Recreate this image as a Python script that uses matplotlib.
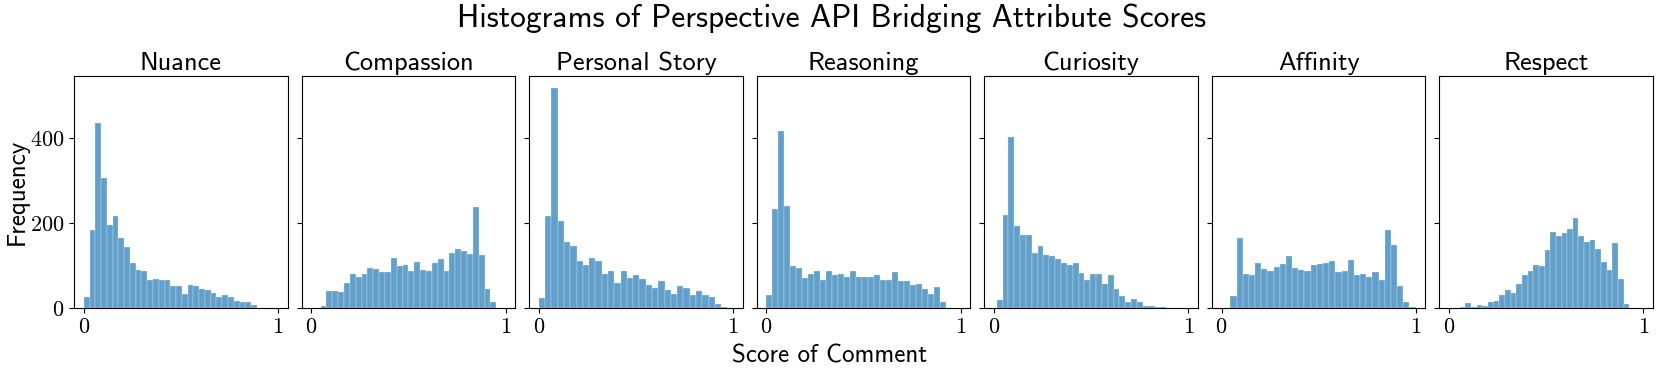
import numpy as np
import matplotlib
matplotlib.use("Agg")
import matplotlib.pyplot as plt

titles = ["Nuance", "Compassion", "Personal Story", "Reasoning", "Curiosity", "Affinity", "Respect"]

# score range (min, max) covered by each histogram (30 bins each)
ranges = [
    (0.000, 0.891),
    (0.048, 0.952),
    (0.000, 0.971),
    (0.000, 0.926),
    (0.014, 0.917),
    (0.046, 0.999),
    (0.055, 0.928),
]

nuance = [27, 184, 436, 306, 196, 216, 164, 143, 107, 89, 87, 66, 69, 65, 66,
          52, 52, 33, 54, 52, 45, 43, 35, 25, 30, 26, 16, 13, 13, 6]
compassion = [5, 40, 40, 37, 59, 80, 73, 80, 93, 91, 84, 84, 117, 99, 101,
              88, 109, 89, 87, 106, 115, 88, 129, 140, 134, 128, 237, 125, 44, 14]
personal_story = [23, 216, 517, 204, 155, 145, 110, 101, 118, 110, 81, 87, 59, 87, 70,
                  77, 68, 54, 46, 64, 43, 33, 52, 47, 31, 40, 31, 26, 10, 3]
reasoning = [31, 233, 417, 240, 98, 93, 71, 80, 88, 65, 86, 77, 80, 73, 88,
             72, 73, 73, 77, 66, 65, 85, 63, 63, 53, 57, 44, 34, 49, 15]
curiosity = [20, 220, 403, 193, 171, 171, 130, 145, 125, 123, 116, 106, 102, 107, 83,
             65, 80, 80, 57, 77, 45, 29, 15, 21, 15, 5, 4, 2, 2, 1]
affinity = [29, 165, 81, 78, 105, 91, 88, 97, 104, 123, 95, 90, 88, 102, 104,
            105, 111, 84, 88, 113, 78, 80, 73, 85, 66, 184, 148, 52, 15, 2]
respect = [2, 11, 3, 7, 4, 14, 17, 30, 42, 35, 57, 77, 88, 101, 98,
           136, 179, 170, 177, 185, 213, 170, 155, 159, 139, 108, 89, 154, 68, 9]

series = [nuance, compassion, personal_story, reasoning, curiosity, affinity, respect]

x_ticks = [0, 1]
y_ticks = [0, 200, 400]

plt.rcParams["font.family"] = "cmr10"
plt.rcParams["axes.formatter.use_mathtext"] = True

fig, axes = plt.subplots(1, 7, figsize=(16.6, 3.77), dpi=100, sharey=True)
fig.subplots_adjust(left=0.0446, right=0.9958, top=0.7984, bottom=0.183, wspace=0.065)

for ax, title, counts, (lo, hi) in zip(axes, titles, series, ranges):
    counts = np.asarray(counts, dtype=float)
    edges = np.linspace(lo, hi, len(counts) + 1)
    centers = 0.5 * (edges[:-1] + edges[1:])
    ax.hist(centers, bins=edges, weights=counts, color="#1f77b4", alpha=0.7,
            edgecolor="#eaf2f8", linewidth=0.3)
    ax.set_title(title, fontfamily="cmss10", fontsize=19, pad=4)
    ax.set_xlim(-0.05, 1.05)
    ax.set_xticks(x_ticks)
    ax.set_yticks(y_ticks)
    ax.tick_params(labelsize=16)
    for lab in ax.get_xticklabels() + ax.get_yticklabels():
        lab.set_fontfamily("cmr10")

axes[0].set_ylim(0, 546)

fig.suptitle("Histograms of Perspective API Bridging Attribute Scores",
             fontfamily="cmss10", fontsize=22.7, x=0.501, y=0.952, va="center")
fig.text(0.5, 0.056, "Score of Comment", fontfamily="cmss10", fontsize=18,
         ha="center", va="center")
fig.text(0.0105, 0.49, "Frequency", fontfamily="cmss10", fontsize=18,
         ha="center", va="center", rotation=90)

fig.savefig("out.png", dpi=100)
